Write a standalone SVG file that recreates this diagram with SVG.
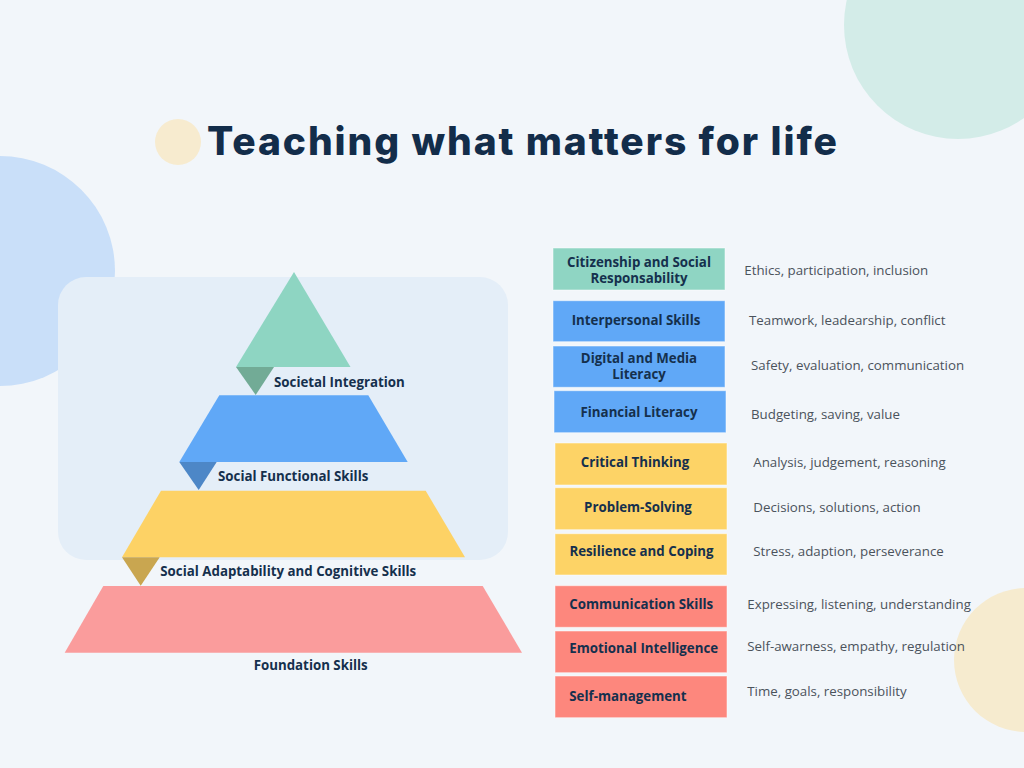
<svg xmlns="http://www.w3.org/2000/svg" width="1024" height="768" viewBox="0 0 1024 768">
<style>
.title{font-family:Inter,"Open Sans","Liberation Sans",sans-serif;font-weight:800;font-size:39px;fill:#132d4a}
.lbl{font-family:"Open Sans","Liberation Sans",sans-serif;font-weight:700;font-size:13.3px;fill:#15304d}
.desc{font-family:"Open Sans","Liberation Sans",sans-serif;font-weight:400;font-size:13.3px;fill:#4b535c}
.box{stroke:#ffffff;stroke-opacity:0.5;stroke-width:1}
.teal{fill:#8fd5c3}.blue{fill:#60a8f7}.yellow{fill:#fdd366}.red{fill:#fd877d}
</style>
<rect width="1024" height="768" fill="#f2f6fa"/>
<g id="decor">
<circle cx="0" cy="271" r="115" fill="#c9dff9"/>
<circle cx="958" cy="25" r="114" fill="#d3ece8"/>
<circle cx="1026" cy="660" r="72" fill="#f6ebcf"/>
<circle cx="178" cy="142" r="23" fill="#f7ebcf"/>
<rect x="58" y="277" width="450" height="283" rx="28" fill="#e4eef8"/>
</g>
<text class="title" x="207" y="155" textLength="630" lengthAdjust="spacing">Teaching what matters for life</text>
<g id="connectors"></g>
<g id="pyramid-top">
<polygon points="294,272 350.5,367 236,367" fill="#8ed5c2"/>
<polygon points="236,367 274,367 255.7,395" fill="#72ab96"/>
<text class="lbl" x="274" y="387">Societal Integration</text>
</g>
<g id="pyramid-2">
<polygon points="219.3,395.3 368.3,395.3 407.7,462 179.3,462" fill="#60a8f7"/>
<polygon points="179.3,462 216.7,462 198.7,490" fill="#4d87c7"/>
<text class="lbl" x="218" y="481">Social Functional Skills</text>
</g>
<g id="pyramid-3">
<polygon points="161,490.7 425.7,490.7 465,557.3 122,557.3" fill="#fdd265"/>
<polygon points="122,557.3 159.7,557.3 140.7,585.7" fill="#c9a650"/>
<text class="lbl" x="160.3" y="576">Social Adaptability and Cognitive Skills</text>
</g>
<g id="pyramid-base">
<polygon points="103.3,586 482.7,586 522,652.7 64.7,652.7" fill="#fa9c9c"/>
<text class="lbl" x="310.7" y="670" text-anchor="middle">Foundation Skills</text>
</g>
<g id="citizenship">
<rect class="box teal" x="553" y="248" width="172" height="42"/>
<text class="lbl" x="639" y="266.7" text-anchor="middle">Citizenship and Social</text>
<text class="lbl" x="639" y="283.3" text-anchor="middle">Responsability</text>
<text class="desc" x="744.3" y="274.5">Ethics, participation, inclusion</text>
</g>
<g id="interpersonal">
<rect class="box blue" x="553" y="300.7" width="172" height="41"/>
<text class="lbl" x="636" y="325.3" text-anchor="middle">Interpersonal Skills</text>
<text class="desc" x="749" y="325.3">Teamwork, leadearship, conflict</text>
</g>
<g id="digital">
<rect class="box blue" x="553" y="346" width="172" height="41.3"/>
<text class="lbl" x="639" y="363.3" text-anchor="middle">Digital and Media</text>
<text class="lbl" x="639" y="379.3" text-anchor="middle">Literacy</text>
<text class="desc" x="751" y="369.5">Safety, evaluation, communication</text>
</g>
<g id="financial">
<rect class="box blue" x="554" y="390.7" width="172" height="42"/>
<text class="lbl" x="639" y="416.7" text-anchor="middle">Financial Literacy</text>
<text class="desc" x="751" y="419.3">Budgeting, saving, value</text>
</g>
<g id="critical">
<rect class="box yellow" x="555" y="443" width="172" height="42"/>
<text class="lbl" x="635" y="467.3" text-anchor="middle">Critical Thinking</text>
<text class="desc" x="753.3" y="467.3">Analysis, judgement, reasoning</text>
</g>
<g id="problem">
<rect class="box yellow" x="555" y="487.7" width="172" height="42"/>
<text class="lbl" x="638" y="512.3" text-anchor="middle">Problem-Solving</text>
<text class="desc" x="753.3" y="512.3">Decisions, solutions, action</text>
</g>
<g id="resilience">
<rect class="box yellow" x="555" y="533.7" width="172" height="41.3"/>
<text class="lbl" x="641.5" y="555.7" text-anchor="middle">Resilience and Coping</text>
<text class="desc" x="753.3" y="555.7">Stress, adaption, perseverance</text>
</g>
<g id="communication">
<rect class="box red" x="555" y="585.7" width="172" height="41.6"/>
<text class="lbl" x="569.3" y="609.3">Communication Skills</text>
<text class="desc" x="747.3" y="609.3">Expressing, listening, understanding</text>
</g>
<g id="emotional">
<rect class="box red" x="555" y="631" width="172" height="41.7"/>
<text class="lbl" x="569.3" y="653.3">Emotional Intelligence</text>
<text class="desc" x="747.3" y="650.7">Self-awarness, empathy, regulation</text>
</g>
<g id="selfmanagement">
<rect class="box red" x="555" y="676" width="172" height="41.7"/>
<text class="lbl" x="569.3" y="700.7">Self-management</text>
<text class="desc" x="747.3" y="695.7">Time, goals, responsibility</text>
</g>
</svg>
